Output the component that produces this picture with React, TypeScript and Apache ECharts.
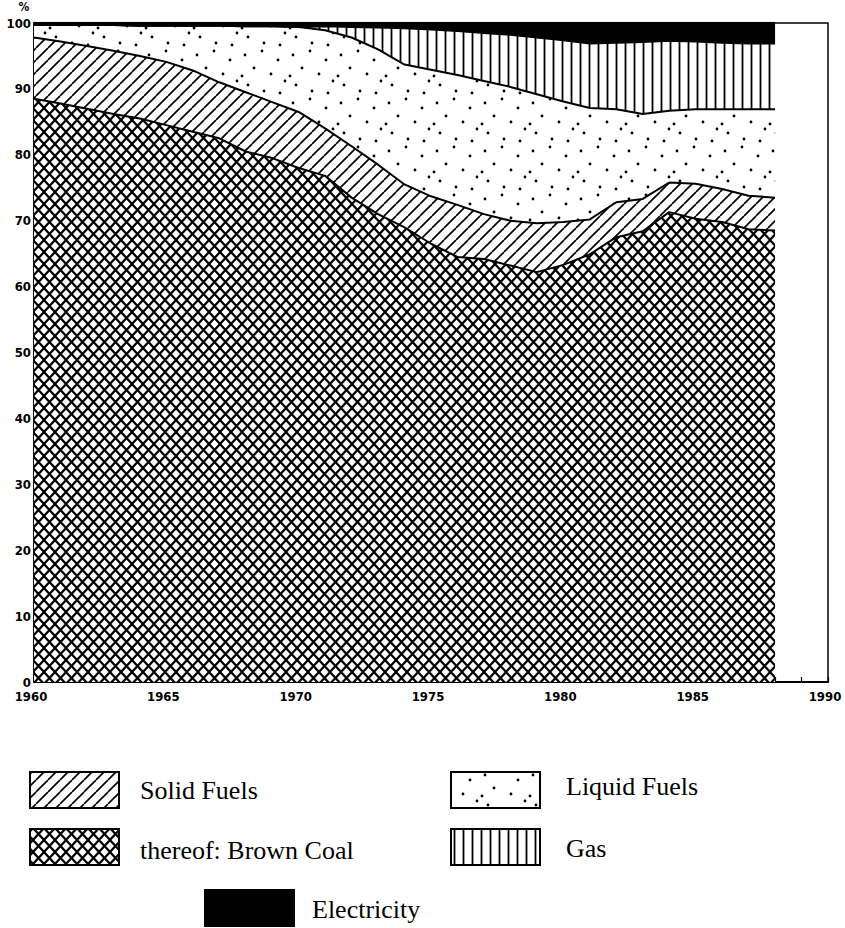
import React, { useEffect, useRef } from "react";
import * as echarts from "echarts";

const axisYears = ["1960","1961","1962","1963","1964","1965","1966","1967","1968","1969","1970","1971","1972","1973","1974","1975","1976","1977","1978","1979","1980","1981","1982","1983","1984","1985","1986","1987","1988","1989","1990"];
const brownCoal = [88.5,87.8,87.0,86.2,85.5,84.5,83.5,82.5,80.5,79.5,78.0,76.8,73.5,71.0,69.0,66.5,64.5,64.2,63.2,62.2,63.3,64.9,67.5,68.4,71.3,70.3,69.8,68.7,68.5];
const otherSolid = [9.3,9.4,9.5,9.6,9.5,9.6,9.3,8.5,9.0,8.5,8.5,7.2,7.8,7.5,6.5,7.2,7.9,6.8,6.8,7.4,6.5,5.3,5.3,4.9,4.5,5.3,5.0,5.1,5.0];
const liquid = [1.9,2.5,3.2,3.9,4.6,5.5,6.8,8.6,10.0,11.5,12.9,14.9,16.5,17.5,18.2,19.2,19.7,20.2,20.3,19.6,18.3,16.9,14.1,12.9,10.9,11.3,12.1,13.1,13.4];
const gas = [0,0,0,0,0,0,0,0,0,0,0,0.6,1.6,3.3,5.5,6.1,6.7,7.3,7.9,8.6,9.3,9.8,10.1,10.9,10.6,10.3,10.1,10.0,10.0];
const electricity = [0.3,0.3,0.3,0.3,0.4,0.4,0.4,0.4,0.5,0.5,0.6,0.5,0.6,0.7,0.8,1.0,1.2,1.5,1.8,2.2,2.6,3.1,3.0,2.9,2.7,2.8,3.0,3.1,3.1];
const yTicks = [0,10,20,30,40,50,60,70,80,90,100];

function makePattern(w: number, h: number, draw: (ctx: CanvasRenderingContext2D) => void) {
  const c = document.createElement("canvas");
  c.width = w;
  c.height = h;
  const ctx = c.getContext("2d")!;
  ctx.fillStyle = "#fff";
  ctx.fillRect(0, 0, w, h);
  ctx.strokeStyle = "#000";
  ctx.fillStyle = "#000";
  draw(ctx);
  return { image: c.toDataURL(), repeat: "repeat", imageWidth: w, imageHeight: h };
}

export default function App() {
  const ref = useRef<HTMLDivElement>(null);
  useEffect(() => {
    if (!ref.current) return;
    const chart = echarts.init(ref.current, null, { renderer: "svg" });

    const cross = makePattern(11, 12, (ctx) => {
      ctx.lineWidth = 2.2;
      for (let k = -1; k <= 1; k++) {
        ctx.beginPath();
        ctx.moveTo(k * 11, 0);
        ctx.lineTo(k * 11 + 11, 12);
        ctx.moveTo(k * 11 + 11, 0);
        ctx.lineTo(k * 11, 12);
        ctx.stroke();
      }
    });
    const diag = makePattern(12, 12, (ctx) => {
      ctx.lineWidth = 1.7;
      for (let k = -1; k <= 1; k++) {
        ctx.beginPath();
        ctx.moveTo(k * 12, 12);
        ctx.lineTo(k * 12 + 12, 0);
        ctx.stroke();
      }
    });
    const vert = makePattern(9, 10, (ctx) => {
      ctx.lineWidth = 1.8;
      ctx.beginPath();
      ctx.moveTo(4.5, 0);
      ctx.lineTo(4.5, 10);
      ctx.stroke();
    });
    const dotPos = [[5,7],[22,3],[38,12],[14,20],[31,26],[45,33],[8,37],[24,43],[40,45],[2,28]];
    const dots = makePattern(48, 48, (ctx) => {
      dotPos.forEach(([x, y]) => {
        ctx.beginPath();
        ctx.arc(x, y, 1.4, 0, Math.PI * 2);
        ctx.fill();
      });
    });

    const mk = (name: string, vals: number[], fill: any, lw: number) => ({
      name,
      type: "line",
      stack: "total",
      symbol: "none",
      showSymbol: false,
      data: vals,
      lineStyle: { color: "#000", width: lw },
      areaStyle: { color: fill, opacity: 1 },
      itemStyle: { color: "#000" },
    });

    const serif = "'Liberation Serif', 'DejaVu Serif', serif";
    const lgText = (x: number, y: number, t: string) => ({
      type: "text",
      x,
      y,
      style: { text: t, font: `26px ${serif}`, fill: "#000", verticalAlign: "middle", align: "left" },
    });
    const lgRect = (x: number, y: number, w: number, h: number, fill: any) => ({
      type: "rect",
      shape: { x, y, width: w, height: h },
      style: { fill, stroke: "#000", lineWidth: 2 },
    });

    const axisFont = "'DejaVu Sans Condensed', 'Liberation Sans Narrow', 'DejaVu Sans', sans-serif";

    chart.setOption({
      animation: false,
      grid: { left: 34, right: 17, top: 23, bottom: 246, show: true, borderColor: "#000", borderWidth: 1.5, backgroundColor: "transparent" },
      xAxis: {
        type: "category",
        data: axisYears,
        boundaryGap: false,
        axisLine: { lineStyle: { color: "#000", width: 2 } },
        axisTick: { show: true, inside: true, length: 5, interval: 0, lineStyle: { color: "#000", width: 1.2 } },
        splitLine: { show: false },
        axisLabel: { interval: 4, color: "#000", fontFamily: axisFont, fontWeight: "bold", fontSize: 13, margin: 8, padding: [0, 6, 0, 0] },
      },
      yAxis: {
        type: "value",
        min: yTicks[0],
        max: yTicks[yTicks.length - 1],
        interval: 10,
        axisLine: { show: true, lineStyle: { color: "#000", width: 2.5 } },
        axisTick: { show: true, inside: true, length: 5, lineStyle: { color: "#000", width: 1.5 } },
        splitLine: { show: false },
        axisLabel: { color: "#000", fontFamily: axisFont, fontWeight: "bold", fontSize: 13, margin: 3, padding: [0, 0, 5, 0] },
      },
      series: [
        mk("thereof: Brown Coal", brownCoal, cross, 2),
        mk("Solid Fuels", otherSolid, diag, 2),
        mk("Liquid Fuels", liquid, dots, 2),
        mk("Gas", gas, vert, 2),
        mk("Electricity", electricity, "#000", 2.5),
      ],
      graphic: [
        { type: "text", x: 24, y: 7, style: { text: "%", font: `bold 12px ${axisFont}`, fill: "#000", align: "center", verticalAlign: "middle" } },
        lgRect(30, 772, 89, 36, diag),
        lgText(140, 790, "Solid Fuels"),
        lgRect(30, 829, 89, 36, cross),
        lgText(140, 850, "thereof: Brown Coal"),
        lgRect(451, 772, 89, 36, dots),
        lgText(566, 786, "Liquid Fuels"),
        lgRect(451, 829, 89, 36, vert),
        lgText(566, 848, "Gas"),
        lgRect(205, 890, 89, 36, "#000"),
        lgText(312, 909, "Electricity"),
      ],
    });
    return () => chart.dispose();
  }, []);
  return <div ref={ref} style={{ position: "fixed", left: 0, top: 0, width: 845, height: 928, background: "#fff" }} />;
}
